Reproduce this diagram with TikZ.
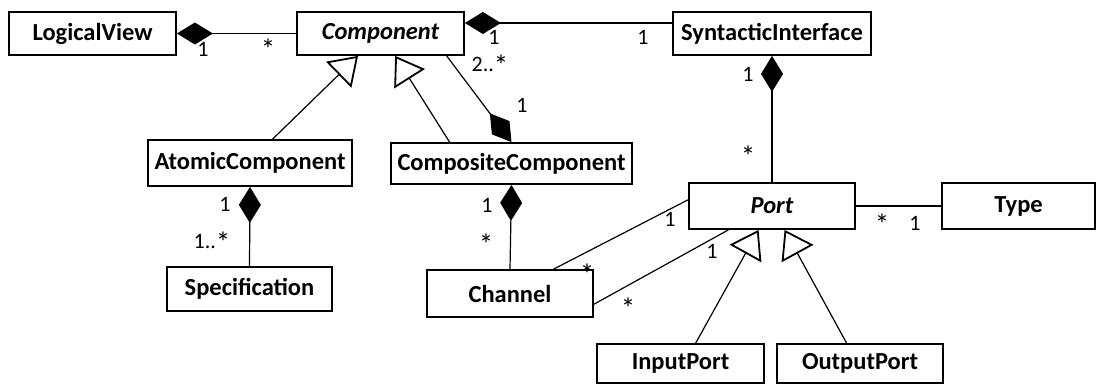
\documentclass[tikz,border=0pt]{standalone}
\usepackage{fontspec}
\setmainfont{Carlito}
\usetikzlibrary{arrows.meta,calc}

% a larger asterisk for "many" multiplicities
\newcommand\manystar{{\fontsize{29}{29}\selectfont *}}
% the same, lowered to sit beside digits
\newcommand\rangestar{\raisebox{-4pt}{\manystar}}

\begin{document}
\begin{tikzpicture}[x=1pt,y=-1pt,
  cls/.style={draw, line width=1.8pt, inner sep=0pt, minimum height=43pt,
              font=\fontsize{24.5}{28}\selectfont\bfseries},
  abstractcls/.style={cls, font=\fontsize{24.5}{28}\selectfont\bfseries\itshape},
  mult/.style={inner sep=0pt, anchor=base, font=\fontsize{22}{24}\selectfont},
  assoc/.style={line width=1.2pt},
  whole/.style={assoc, {Diamond[length=36pt,width=22pt]}-},
  isa/.style={assoc, -{Triangle[open,length=27pt,width=36pt,line width=1.8pt]}}]

\useasboundingbox (0,0) rectangle (1100,385);

% classes
\node[cls, minimum width=167pt] (lv) at (92.5,33.5) {LogicalView};
\node[abstractcls, minimum width=167pt] (comp) at (380.5,33.5) {Component};
\node[cls, minimum width=198pt] (si) at (772,33.5) {SyntacticInterface};
\node[cls, minimum width=204pt, minimum height=46pt] (atomic) at (250,163) {AtomicComponent};
\node[cls, minimum width=241pt, minimum height=41pt] (composite) at (511.5,163.5) {CompositeComponent};
\node[cls, minimum width=165pt, minimum height=44pt] (spec) at (249.5,289) {Specification};
\node[cls, minimum width=166pt, minimum height=47pt] (channel) at (510,293.5) {Channel};
\node[abstractcls, minimum width=166pt, minimum height=46pt] (port) at (772,206) {Port};
\node[cls, minimum width=153pt, minimum height=46pt] (type) at (1018.5,206) {Type};
\node[cls, minimum width=167pt, minimum height=39pt] (inport) at (680.5,363.5) {InputPort};
\node[cls, minimum width=166pt, minimum height=39pt] (outport) at (860,363.5) {OutputPort};

% compositions
\draw[whole] (lv.east) -- (comp.west);
\draw[whole] ([yshift=10.5pt]comp.east) -- ([yshift=10.5pt]si.west);
\draw[whole] (si.south) -- (port.north);
\draw[whole] (composite.north) -- ($(comp.south west)!0.892!(comp.south east)$);
\draw[whole] (atomic.south) -- (spec.north);
\draw[whole] (composite.south) -- (channel.north);

% associations between Channel and Port, and Port and Type
\draw[assoc] ($(channel.north west)!0.76!(channel.north east)$) -- ($(port.north west)!0.37!(port.south west)$);
\draw[assoc] ($(channel.north east)!0.72!(channel.south east)$) -- ($(port.south west)!0.24!(port.south east)$);
\draw[assoc] (port.east) -- (type.west);

% generalizations
\draw[isa] ($(atomic.north west)!0.61!(atomic.north east)$) -- ($(comp.south west)!0.367!(comp.south east)$);
\draw[isa] ($(composite.north west)!0.245!(composite.north east)$) -- ($(comp.south west)!0.587!(comp.south east)$);
\draw[isa] ($(inport.north west)!0.59!(inport.north east)$) -- ($(port.south west)!0.42!(port.south east)$);
\draw[isa] ($(outport.north west)!0.42!(outport.north east)$) -- ($(port.south west)!0.575!(port.south east)$);

% multiplicities
\node[mult] (m1) at (203,57) {1};
\node[mult] (m2) at (268,60) {\manystar};
\node[mult] (m3) at (494,45) {1};
\node[mult] (m4) at (643,45) {1};
\node[mult] (m5) at (490,72) {2..\rangestar};
\node[mult] (m6) at (522,113) {1};
\node[mult] (m7) at (748,82) {1};
\node[mult] (m8) at (748,166) {\manystar};
\node[mult] (m9) at (225,211) {1};
\node[mult] (m10) at (212,248) {1..\rangestar};
\node[mult] (m11) at (487,212) {1};
\node[mult] (m12) at (486,254) {\manystar};
\node[mult] (m13) at (670,226) {1};
\node[mult] (m14) at (587,284) {\manystar};
\node[mult] (m15) at (712,258) {1};
\node[mult] (m16) at (628,318) {\manystar};
\node[mult] (m17) at (882,234) {\manystar};
\node[mult] (m18) at (915,230) {1};
\end{tikzpicture}
\end{document}
